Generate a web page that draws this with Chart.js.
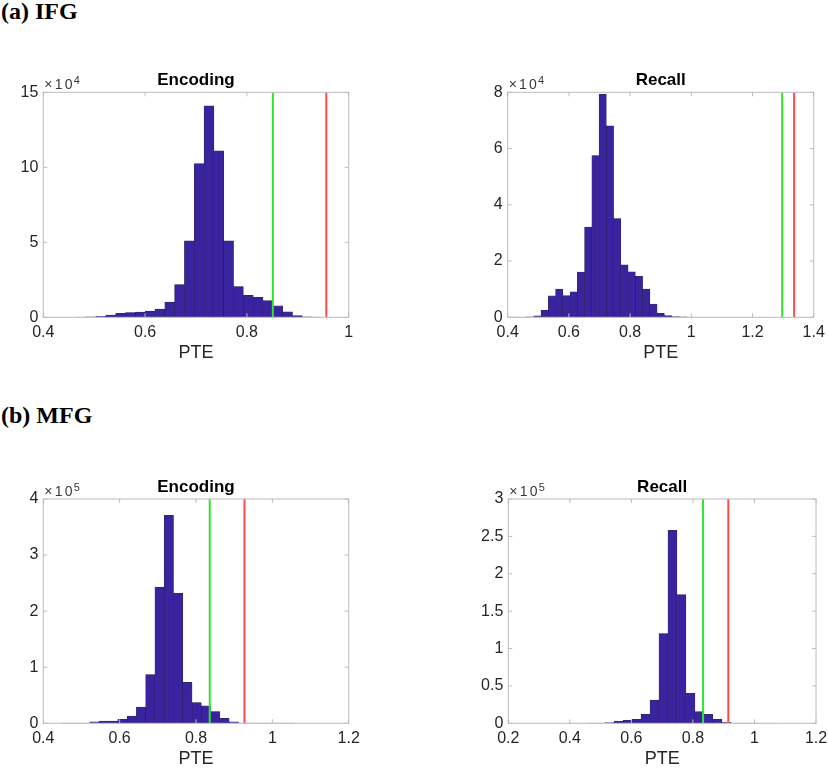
<!DOCTYPE html>
<html><head><meta charset="utf-8">
<script src="https://cdn.jsdelivr.net/npm/chart.js@4.4.1/dist/chart.umd.min.js"></script>
<style>
html,body{margin:0;padding:0;background:#fff;}
body{width:828px;height:768px;position:relative;overflow:hidden;}
.sec{position:absolute;left:1px;font-family:"Liberation Serif","Times New Roman",serif;font-weight:bold;font-size:24px;line-height:24px;color:#000;white-space:nowrap;}
canvas{position:absolute;}
</style></head><body>
<div class="sec" style="top:-1px">(a) IFG</div>
<div class="sec" style="top:403px">(b) MFG</div>
<script>
// ---------- (a) IFG, Encoding ----------
const ifgEncBins   = [0.4746,0.4939,0.5132,0.5325,0.5518,0.5711,0.5904,0.6097,0.6290,0.6483,0.6676,0.6869,0.7062,0.7255,0.7448,0.7641,0.7834,0.8027,0.8220,0.8413,0.8606,0.8799,0.8992,0.9185,0.9378];
const ifgEncCounts = [100,250,600,1500,2700,3200,3500,4100,5500,10200,21800,50900,102400,141000,111000,50900,20500,14600,13300,11100,7600,3700,1100,250,100];
const ifgEncThresholds = [0.851, 0.956];
const ifgEncXTicks = [0.4,0.6,0.8,1];
const ifgEncYTicks = [0,50000,100000,150000];

// ---------- (a) IFG, Recall ----------
const ifgRecBins   = [0.4261,0.4498,0.4735,0.4972,0.5209,0.5446,0.5683,0.5920,0.6157,0.6394,0.6631,0.6868,0.7105,0.7342,0.7579,0.7816,0.8053,0.8290,0.8527,0.8764,0.9001,0.9238,0.9475,0.9712,0.9949];
const ifgRecCounts = [50,100,200,500,2600,7600,10000,7700,9100,16100,32100,57500,79300,68100,35100,18700,16200,14600,10000,4700,1400,600,300,200,100];
const ifgRecThresholds = [1.297, 1.336];
const ifgRecXTicks = [0.4,0.6,0.8,1,1.2,1.4];
const ifgRecYTicks = [0,20000,40000,60000,80000];

// ---------- (b) MFG, Encoding ----------
const mfgEncBins   = [0.4616,0.4859,0.5102,0.5345,0.5588,0.5831,0.6074,0.6317,0.6560,0.6803,0.7046,0.7289,0.7532,0.7775,0.8018,0.8261,0.8504,0.8747,0.8990,0.9233,0.9476,0.9719,0.9962,1.0205,1.0448];
const mfgEncCounts = [200,300,500,2400,4000,4000,7000,13000,29000,87000,243000,371000,232000,73000,37000,31000,21000,9000,2400,500,300,200,200,200,200];
const mfgEncThresholds = [0.836, 0.927];
const mfgEncXTicks = [0.4,0.6,0.8,1,1.2];
const mfgEncYTicks = [0,100000,200000,300000,400000];

// ---------- (b) MFG, Recall ----------
const mfgRecBins   = [0.3831,0.4123,0.4415,0.4707,0.4999,0.5291,0.5583,0.5875,0.6167,0.6459,0.6751,0.7043,0.7335,0.7627,0.7919,0.8211,0.8503,0.8795,0.9087,0.9379,0.9671,0.9963,1.0255,1.0547,1.0839];
const mfgRecCounts = [100,100,100,200,300,1000,2700,4000,5300,12000,31000,120000,258000,172000,40000,15600,12000,5300,1300,400,200,200,100,100,100];
const mfgRecThresholds = [0.833, 0.915];
const mfgRecXTicks = [0.2,0.4,0.6,0.8,1,1.2];
const mfgRecYTicks = [0,50000,100000,150000,200000,250000,300000];

const FONT = '"Liberation Sans", Arial, Helvetica, sans-serif';
const BAR = '#3a239f';
const EDGE = 'rgba(25,15,70,0.9)';
const GREEN = '#2ee62e';
const RED = '#ff4a4a';
const TXT = '#262626';
const BOX = '#bcbcbc';

const decor = {
  id: 'decor',
  afterDatasetsDraw(chart, args, o) {
    const {ctx, chartArea: a, scales: {x, y}} = chart;
    ctx.save();
    ctx.strokeStyle = BOX; ctx.lineWidth = 1;
    ctx.strokeRect(a.left, a.top, a.right - a.left, a.bottom - a.top);
    ctx.beginPath();
    x.ticks.forEach(t => {
      const p = x.getPixelForValue(t.value);
      ctx.moveTo(p, a.bottom); ctx.lineTo(p, a.bottom - 4);
      ctx.moveTo(p, a.top); ctx.lineTo(p, a.top + 4);
    });
    y.ticks.forEach(t => {
      const p = y.getPixelForValue(t.value);
      ctx.moveTo(a.left, p); ctx.lineTo(a.left + 4, p);
      ctx.moveTo(a.right, p); ctx.lineTo(a.right - 4, p);
    });
    ctx.stroke();
    ctx.restore();
  },
  afterDraw(chart, args, o) {
    const {ctx, chartArea: a} = chart;
    ctx.save();
    ctx.fillStyle = '#000';
    ctx.font = 'bold 17px ' + FONT;
    ctx.textAlign = 'center'; ctx.textBaseline = 'alphabetic';
    ctx.fillText(o.title, (a.left + a.right) / 2, a.top - 7);
    ctx.fillStyle = '#3a3a3a';
    ctx.textAlign = 'left';
    ctx.font = '14px ' + FONT;
    // "×10" with wide spacing, then superscript exponent
    const glyphs = ['\u00d7', '1', '0'];
    let xx = a.left + 1;
    glyphs.forEach(g => { ctx.fillText(g, xx, a.top - 3); xx += ctx.measureText(g).width + 2.2; });
    ctx.font = '11px ' + FONT;
    ctx.fillText(String(o.exp), xx - 1, a.top - 8.5);
    ctx.restore();
  }
};

function makePanel(cfg) {
  const a = cfg.area;
  const yW = 44, xH = 50;
  const cl = Math.floor(a.l) - 50, ct = Math.floor(a.t) - 40;
  const cw = Math.ceil(a.r - cl) + 20, ch = Math.ceil(a.b - ct) + 55;
  const cv = document.createElement('canvas');
  cv.width = cw; cv.height = ch;
  cv.style.left = cl + 'px'; cv.style.top = ct + 'px';
  cv.style.width = cw + 'px'; cv.style.height = ch + 'px';
  document.body.appendChild(cv);
  const div = Math.pow(10, cfg.exp);
  const yMax = cfg.yTicks[cfg.yTicks.length - 1];
  const vline = (v, c) => ({type: 'line', data: [{x: v, y: 0}, {x: v, y: yMax}], borderColor: c, borderWidth: 2, pointRadius: 0, order: 0});
  new Chart(cv, {
    type: 'bar',
    data: {datasets: [
      vline(cfg.thr[0], GREEN),
      vline(cfg.thr[1], RED),
      {type: 'bar', data: cfg.bins.map((b, i) => ({x: b, y: cfg.counts[i]})),
       backgroundColor: BAR, borderColor: EDGE, borderWidth: 0.6, borderSkipped: false,
       barPercentage: 1, categoryPercentage: 1, order: 1}
    ]},
    options: {
      responsive: false, animation: false, events: [], devicePixelRatio: 1,
      layout: {padding: {left: a.l - cl - yW, top: a.t - ct, right: cl + cw - a.r, bottom: ct + ch - a.b - xH}},
      plugins: {legend: {display: false}, tooltip: {enabled: false}, decor: {title: cfg.title, exp: cfg.exp}},
      scales: {
        x: {type: 'linear', min: cfg.xTicks[0], max: cfg.xTicks[cfg.xTicks.length - 1], offset: false,
            afterBuildTicks: s => { s.ticks = cfg.xTicks.map(v => ({value: v})); },
            afterFit: s => { s.height = xH; },
            grid: {display: false, drawTicks: false, offset: false}, border: {display: false},
            ticks: {autoSkip: false, maxRotation: 0, padding: cfg.xPad, color: TXT, font: {family: FONT, size: 16},
                    callback: v => String(+Number(v).toFixed(3))},
            title: {display: true, text: 'PTE', color: TXT, font: {family: FONT, size: 18}, padding: {top: 0, bottom: cfg.tPad}}},
        y: {type: 'linear', min: 0, max: yMax,
            afterBuildTicks: s => { s.ticks = cfg.yTicks.map(v => ({value: v})); },
            afterFit: s => { s.width = yW; },
            grid: {display: false, drawTicks: false}, border: {display: false},
            ticks: {autoSkip: false, padding: 5, color: TXT, font: {family: FONT, size: 16},
                    callback: v => String(+(v / div).toFixed(3))}}
      }
    },
    plugins: [decor]
  });
}

makePanel({title: 'Encoding', bins: ifgEncBins, counts: ifgEncCounts, thr: ifgEncThresholds, xTicks: ifgEncXTicks, yTicks: ifgEncYTicks, exp: 4, xPad: 5.5, tPad: 3.5, area: {l: 43.3, t: 92.3, r: 348.7, b: 317.3}});
makePanel({title: 'Recall', bins: ifgRecBins, counts: ifgRecCounts, thr: ifgRecThresholds, xTicks: ifgRecXTicks, yTicks: ifgRecYTicks, exp: 4, xPad: 5.5, tPad: 3.5, area: {l: 507.7, t: 92.3, r: 813.7, b: 317.3}});
makePanel({title: 'Encoding', bins: mfgEncBins, counts: mfgEncCounts, thr: mfgEncThresholds, xTicks: mfgEncXTicks, yTicks: mfgEncYTicks, exp: 5, xPad: 6, tPad: 3, area: {l: 43.3, t: 499, r: 348.7, b: 723.3}});
makePanel({title: 'Recall', bins: mfgRecBins, counts: mfgRecCounts, thr: mfgRecThresholds, xTicks: mfgRecXTicks, yTicks: mfgRecYTicks, exp: 5, xPad: 6, tPad: 3, area: {l: 508.3, t: 499, r: 816, b: 723.3}});
</script>
</body></html>
